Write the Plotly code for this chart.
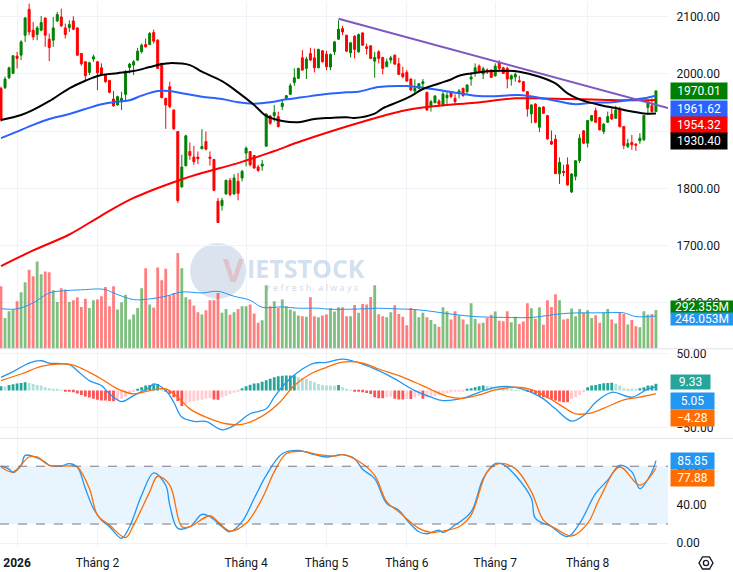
import plotly.graph_objects as go

# ---------------- DATA ----------------
x_tick_vals = [4, 24, 61, 81, 101, 123, 146]
x_tick_text = ["<b>2026</b>", "Tháng 2", "Tháng 4", "Tháng 5", "Tháng 6", "Tháng 7", "Tháng 8"]

price_ticks = [1600, 1700, 1800, 1900, 2000, 2100]
macd_ticks = [-50, 50]
stoch_ticks = [0, 40, 80]

opens = [1974.5,1975.6,1993.0,2000.6,2030.7,2032.4,2067.2,2112.4,2075.9,2068.4,
2075.9,2097.4,2060.3,2058.5,2092.2,2099.1,2080.0,2080.6,2092.2,2080.0,
2035.4,2020.9,2002.3,2025.5,2020.9,2010.4,1998.8,1988.4,1955.9,1945.5,
1951.3,1964.0,2011.0,2015.1,2023.8,2038.2,2051.0,2051.0,2071.9,2058.5,
2018.0,1957.1,1977.4,1936.8,1899.1,1802.3,1839.4,1864.3,1854.5,1854.5,
1869.0,1881.7,1854.5,1850.4,1777.4,1769.8,1790.1,1813.9,1790.1,1812.2,
1818.0,1861.4,1864.3,1857.4,1837.1,1838.8,1873.6,1926.4,1926.9,1925.2,
1942.6,1957.1,1964.0,1984.9,1991.9,2027.8,2009.3,2035.4,2027.8,2010.4,
2040.0,2034.2,2011.6,2038.2,2060.3,2078.8,2067.2,2036.5,2065.5,2038.2,
2071.3,2046.9,2048.7,2022.0,2038.2,2028.4,2012.2,2023.8,2032.4,2017.4,
2000.6,2002.3,1990.7,1969.8,1974.5,1982.6,1967.5,1942.6,1949.5,1952.4,
1944.3,1958.2,1968.7,1957.1,1967.5,1974.5,1968.7,1990.7,2002.3,2013.3,
1999.4,2006.4,2006.4,1996.5,2019.1,2010.4,2009.3,1990.7,1994.2,1987.8,
1986.1,1968.7,1929.8,1947.2,1906.6,1942.0,1926.9,1881.7,1885.8,1825.5,
1829.6,1841.1,1793.6,1820.9,1848.1,1900.3,1878.8,1918.2,1935.6,1923.5,
1899.1,1915.3,1929.3,1922.3,1938.5,1907.8,1873.0,1880.0,1877.1,1882.9,
1884.6,1940.9,1944.3,1933.9]

highs = [1977.4,1994.8,2012.2,2032.4,2038.2,2058.5,2099.1,2122.3,2090.4,2083.5,
2100.9,2097.4,2070.1,2099.1,2107.8,2113.6,2087.5,2093.3,2100.3,2080.6,
2036.0,2021.5,2020.9,2033.6,2021.5,2018.0,1999.4,1989.0,1969.8,1961.7,
1968.7,2006.4,2019.1,2023.8,2045.2,2052.7,2061.4,2073.0,2077.1,2060.3,
2019.1,1957.7,1986.1,1937.4,1899.7,1858.5,1893.3,1880.0,1874.2,1864.3,
1903.2,1899.1,1864.3,1851.0,1783.2,1783.2,1815.1,1818.0,1824.9,1826.7,
1832.5,1873.0,1864.9,1858.0,1841.1,1849.8,1931.0,1928.1,1945.5,1933.9,
1954.2,1962.9,1983.2,2009.3,2010.4,2041.1,2029.6,2045.2,2044.0,2044.0,
2041.1,2040.0,2035.4,2057.4,2093.3,2083.5,2067.8,2055.6,2067.2,2070.1,
2071.9,2052.7,2049.8,2038.2,2041.1,2029.6,2026.7,2031.3,2033.6,2027.8,
2012.2,2006.4,1991.9,1990.1,1983.8,1990.7,1968.7,1954.2,1962.9,1955.3,
1968.7,1968.7,1969.8,1964.0,1973.3,1975.6,1981.4,2002.3,2018.0,2016.2,
2012.2,2009.3,2007.5,2018.0,2023.8,2012.2,2012.2,1998.8,2002.3,1996.5,
1987.2,1969.8,1946.7,1948.4,1942.6,1943.2,1928.1,1900.9,1893.3,1853.9,
1841.1,1853.9,1826.7,1849.3,1894.5,1901.4,1919.4,1928.1,1940.9,1924.6,
1913.6,1933.9,1939.7,1944.3,1942.6,1909.0,1886.4,1893.3,1878.8,1896.2,
1928.1,1954.2,1957.1,1971.0]

lows = [1916.5,1973.3,1990.7,1999.4,2009.3,2023.8,2055.6,2067.2,2058.5,2058.5,
2074.2,2046.9,2022.0,2046.9,2090.4,2081.7,2061.4,2073.0,2075.9,2031.3,
2013.9,1989.0,1997.7,2020.9,1971.6,1996.5,1984.3,1965.8,1942.6,1944.3,
1936.8,1951.3,2000.6,1997.7,2022.0,2035.4,2045.8,2049.8,2052.7,2008.1,
1957.1,1903.8,1939.7,1902.0,1774.5,1801.7,1838.2,1849.8,1841.1,1842.3,
1868.4,1866.1,1839.4,1794.8,1739.7,1761.2,1789.0,1786.1,1789.0,1779.1,
1812.2,1838.2,1838.2,1834.2,1828.4,1830.7,1873.0,1910.7,1916.5,1906.1,
1936.8,1955.9,1962.9,1979.1,1991.3,2005.2,1990.7,2022.0,2002.3,2009.3,
2019.7,2006.4,2006.4,2032.4,2059.1,2067.2,2038.2,2028.4,2026.7,2036.5,
2048.7,2033.6,2025.5,1993.0,2018.0,1998.8,2011.6,2018.0,2015.1,1997.7,
1991.9,1986.1,1969.8,1962.9,1973.3,1975.6,1935.1,1933.9,1948.4,1942.6,
1942.6,1945.5,1957.1,1945.5,1957.1,1960.0,1965.8,1979.1,1994.8,2000.6,
1990.7,1999.4,1993.0,1994.8,2002.3,1999.4,1974.5,1979.1,1986.1,1984.3,
1968.7,1925.2,1913.6,1913.6,1898.0,1929.8,1884.6,1875.9,1824.9,1807.5,
1820.9,1804.6,1791.9,1813.9,1844.0,1877.1,1871.3,1916.5,1914.2,1900.9,
1894.5,1914.2,1919.4,1921.1,1906.1,1868.4,1870.1,1867.2,1865.5,1877.7,
1882.9,1928.1,1932.2,1933.9]

closes = [1919.4,1990.7,2010.4,2031.3,2026.7,2055.6,2097.4,2073.0,2064.3,2080.0,
2089.3,2067.2,2045.8,2080.0,2103.2,2083.5,2068.4,2085.8,2077.7,2032.4,
2017.4,1996.5,2019.1,2029.6,2001.7,1998.8,1986.1,1967.5,1943.8,1960.0,
1957.1,2003.5,2016.8,2020.9,2039.4,2049.8,2046.9,2070.1,2056.8,2009.3,
1958.2,1945.5,1942.6,1903.8,1778.5,1837.1,1891.6,1857.4,1846.4,1851.6,
1873.0,1868.4,1852.2,1796.5,1740.3,1779.1,1813.9,1789.0,1818.0,1791.3,
1829.6,1870.1,1841.1,1835.4,1831.3,1842.3,1929.8,1913.6,1932.2,1907.8,
1948.4,1961.7,1979.1,1993.0,2009.3,2006.4,2025.5,2023.8,2010.4,2042.3,
2020.9,2012.2,2033.6,2055.6,2077.7,2073.0,2039.4,2053.9,2042.3,2068.4,
2049.8,2044.0,2026.7,2028.4,2026.7,2009.3,2020.9,2027.8,2016.8,1998.8,
1994.8,1987.2,1971.6,1974.5,1982.6,1986.1,1936.8,1951.3,1961.1,1946.7,
1964.6,1962.3,1960.0,1951.3,1969.8,1961.7,1980.3,1994.2,2010.4,2003.5,
2008.7,2003.5,1993.6,2013.3,2009.3,2000.6,1990.7,1996.5,1998.8,1986.1,
1969.8,1938.5,1945.5,1915.3,1940.9,1931.0,1886.4,1877.1,1825.5,1845.2,
1827.8,1805.8,1824.9,1848.1,1887.5,1878.8,1918.2,1926.9,1915.3,1902.0,
1911.9,1925.2,1921.1,1936.8,1907.8,1874.8,1878.2,1875.9,1875.3,1887.5,
1926.9,1951.3,1933.9,1970.01]

# volume in millions
volumes = [470,232,282,295,357,425,500,595,545,657,560,582,575,440,352,455,445,352,365,387,
315,377,307,365,370,395,465,320,470,295,350,407,220,257,307,455,605,332,310,612,
515,602,400,420,720,605,387,370,325,275,257,290,365,365,420,270,300,255,275,300,
320,320,332,265,195,215,
477,320,357,307,370,320,295,282,250,245,240,387,245,237,250,257,
307,280,312,312,245,245,330,270,337,332,390,477,260,245,237,275,327,262,240,177,
307,295,237,270,237,217,187,165,312,282,220,282,250,220,185,342,225,190,195,232,
255,280,210,207,282,200,240,187,205,342,305,225,312,180,365,315,410,365,220,225,
302,245,300,270,290,232,252,195,270,300,220,190,277,262,182,217,170,162,282,257,
262,292.355]

vol_ma_idx = [0,4,8,12,16,21,24,26,28,33,37,41,45,50,54,58,62,65,70,74,79,82,90,94,98,103,107,111,115,119,123,127,132,136,140,144,148,152,155,158,163]
vol_ma_val = [302,300,345,420,437,445,450,445,420,370,375,395,427,420,432,395,365,312,315,305,305,297,300,305,300,295,282,265,250,240,237,235,235,250,265,270,270,272,270,242,246.053]

black_idx = [0,5,8,12,17,21,25,29,33,37,40,42,47,50,55,59,63,66,70,74,78,82,86,88,93,95,99,102,105,109,112,114,117,120,124,129,134,138,141,144,149,154,157,160,163]
black_val = [1919.4,1928,1937,1952,1974.5,1987.8,1997.7,2001,2004.6,2011.6,2016.8,2018.5,2015,2003.5,1987,1967.5,1945.5,1926.4,1917.6,1915.3,1921,1922.9,1924,1922.9,1930.4,1939.7,1951.3,1961,1973.3,1983,1990,1996.5,2000.6,2003.5,2005.2,2003.5,1994.8,1983.2,1965.8,1955.3,1945.5,1938.5,1933.9,1930.6,1930.40]

blue_idx = [0,4,8,12,17,21,25,29,32,35,39,42,45,50,55,59,63,67,71,75,79,86,89,94,101,105,109,114,118,122,129,134,138,143,147,152,156,160,163]
blue_val = [1887.5,1899,1910.7,1921,1929.8,1938.5,1946.7,1951.3,1953.6,1961.7,1969.8,1969.8,1965.8,1960,1955.9,1950.1,1947.8,1950.1,1955.3,1958.8,1962.9,1967.5,1968.7,1976.8,1978.5,1975.6,1971.6,1965.8,1961.7,1960.6,1962.9,1958.2,1953,1946.7,1949.5,1950.1,1953.6,1957.1,1961.62]

red_idx = [0,8,17,25,33,44,50,59,67,75,86,93,101,109,118,128,133,141,149,157,163]
red_val = [1664.3,1691.6,1719.4,1752.5,1783.2,1813.3,1826.7,1844,1862.6,1882.9,1907.8,1922.3,1936.8,1944.3,1949.5,1957.1,1957.1,1955.9,1954.8,1953.6,1954.32]

trend_idx = [84, 166]
trend_val = [2096.0, 1940.0]

macd_idx = [0,3,7,10,12,17,19,22,25,27,30,33,37,38,41,43,45,48,51,55,58,62,66,68,71,75,78,81,85,90,94,98,103,107,110,115,119,123,128,132,135,138,142,145,148,152,157,161,163]
macd_val = [18,25.7,37.4,40.5,37.4,35.1,27,13.5,6.8,-4.5,-14.9,-6.8,4.5,9,0,-15.8,-36,-41.9,-41.9,-53.2,-47.3,-31.5,-24.8,-9,11.3,29.3,37.4,38.3,42.8,36,27,15.8,0,-9,-13.5,-10.4,-2.3,4.5,4.5,-2.3,-11.3,-24.8,-41.4,-33.8,-15.8,-2.3,-9,2.3,5.05]

signal_idx = [0,5,10,14,18,22,25,29,33,37,41,44,47,51,56,60,65,69,73,77,81,85,90,94,99,103,107,111,115,119,123,128,132,136,140,143,147,151,155,159,163]
signal_val = [13.5,22.5,32.9,36,34.7,24.8,15.8,2.3,-4.5,0,2.3,-9,-24.8,-36,-45,-45.9,-34.7,-18,6.8,22.5,31.5,38.5,37.4,29.3,20.3,11.3,1.4,-7.7,-10.4,-5.9,0.9,4.5,1.4,-9,-22.5,-31.5,-30.2,-21.6,-12.6,-9,-4.28]

hist = [5.9,5.5,7.6,8.5,9.5,10.4,11.3,10.4,9.0,7.7,6.8,4.5,3.2,2.3,1.4,0.9,-0.9,-1.4,-2.3,-4,
-5.9,-8,-9.5,-11,-12.5,-13.5,-13.6,-14,-14.5,-13,-11,-8,-5,-2,2.3,4.5,6.8,7.7,8.5,9,
3,-1.5,-4.5,-9,-14,-21,-18,-16,-14.5,-13.5,-12.5,-11,-10,-12,-12.5,-9,-7,-5,-3,-1,
3.2,5.9,8,9.5,10,12,14,16,18,19.5,20,20.3,20.5,20.7,18,16.7,15.8,13.5,11.3,9,
7.7,7.0,6.8,6.6,7.5,4.5,2.3,0.9,-0.9,-1.4,-2.3,-3.2,-4.5,-9,-10.4,-10.5,-9,-8.5,-11,-12,
-12.2,-11.3,-11.5,-9,-7,-11,-9,-8.5,-7.7,-6,-4.5,-3.2,-2.3,-1.4,-0.9,-0.5,2.3,3.2,4.5,5.9,
6.8,6.3,5.9,4.5,3.6,2.7,1.8,1.4,0.9,0.5,0.2,-1.4,-2.3,-4.5,-7.7,-9,-10.4,-12,-13.5,-14.9,
-15.8,-16,-11.3,-9,-5.9,-2.3,4.5,6.8,7.7,9,9.9,10.4,10.6,9,6.8,3.2,2.3,1.4,1.3,3.2,
4.5,6.8,6.9,9.33]

k_idx = [0,2,3,5,6,8,11,12,15,17,19,21,23,25,27,30,32,35,38,41,42,44,47,50,52,55,57,60,63,66,70,74,78,81,85,88,90,93,96,99,101,104,106,109,110,113,117,120,123,125,128,132,133,137,141,144,148,151,154,157,159,162,163]
k_val = [80,77,73.4,81,91.3,90.2,84.4,81,80.3,82.7,79.2,56.8,36.1,24.1,17.2,5.2,17.2,49.9,73,60.3,39.6,15.5,17.2,30,27.6,17.2,12,22.4,46.5,70.6,93,96.5,92,89.6,92,87.8,76.8,67.2,41.3,34.4,24.1,12,9.9,13.7,11.3,18.9,32.7,67.2,82.7,81.7,70.6,46.5,25.8,17.2,6.9,20.7,51.7,65.5,81,74.1,56.8,74.1,85.85]

d_idx = [0,3,7,9,12,17,19,22,24,27,31,33,37,39,42,45,47,52,54,57,61,65,68,71,75,79,83,85,89,93,96,99,104,107,110,114,117,121,124,128,132,135,138,142,146,149,154,159,163]
d_val = [79.2,74.1,89.6,89.6,81,80.3,79.2,56.8,29.3,18.9,5.9,18.9,53.4,69.6,60.3,17.2,17.2,28.6,22.4,12.7,20.7,46.5,74.1,93,95.5,92,90.6,92,85.2,70.6,43,32.7,15.5,11.3,12.7,17.2,29.3,74.1,82.7,77.5,53.4,24.1,15.5,7.6,20.7,46.5,79.2,60.3,77.88]

# ---------------- LAYOUT HELPERS ----------------
W, H = 733, 572
PLOT_W, PLOT_H = 668, 548
def px(xp):
    return xp / PLOT_W
def py(yp):
    return (PLOT_H - yp) / PLOT_H

n = min(len(opens), len(highs), len(lows), len(closes), len(volumes), len(hist))
idx = list(range(n))
GRID = "#f0f3fa"
FONT = "Roboto, Noto Sans, sans-serif"
TXT = "#131722"

vol_colors = ["rgba(0,128,0,0.5)" if closes[i] >= opens[i] else "rgba(255,0,0,0.5)" for i in idx]
hist_colors = []
for i in idx:
    prev = hist[i - 1] if i > 0 else hist[i]
    if hist[i] >= 0:
        hist_colors.append("#26a69a" if hist[i] >= prev else "#b2dfdb")
    else:
        hist_colors.append("#ffcdd2" if hist[i] > prev else "#ff5252")

fig = go.Figure()

# volume (base axis of price pane)
fig.add_trace(go.Bar(x=idx, y=volumes[:n], marker=dict(color=vol_colors, line=dict(width=0)),
                     width=0.7, xaxis="x3", yaxis="y"))
fig.add_trace(go.Scatter(x=vol_ma_idx, y=vol_ma_val, mode="lines",
                         line=dict(color="#2196f3", width=1, shape="spline"), xaxis="x3", yaxis="y"))

# moving averages
fig.add_trace(go.Scatter(x=red_idx, y=red_val, mode="lines",
                         line=dict(color="#ff0000", width=2, shape="spline"), xaxis="x3", yaxis="y2"))
fig.add_trace(go.Scatter(x=blue_idx, y=blue_val, mode="lines",
                         line=dict(color="#2962ff", width=2, shape="spline"), xaxis="x3", yaxis="y2"))
fig.add_trace(go.Scatter(x=black_idx, y=black_val, mode="lines",
                         line=dict(color="#000000", width=2, shape="spline"), xaxis="x3", yaxis="y2"))
fig.add_trace(go.Scatter(x=trend_idx, y=trend_val, mode="lines",
                         line=dict(color="#7e57c2", width=2), xaxis="x3", yaxis="y2", cliponaxis=True))

# candles
fig.add_trace(go.Candlestick(x=idx, open=opens[:n], high=highs[:n], low=lows[:n], close=closes[:n],
                             increasing=dict(line=dict(color="#008000", width=1), fillcolor="#008000"),
                             decreasing=dict(line=dict(color="#ff0000", width=1), fillcolor="#ff0000"),
                             whiskerwidth=0, xaxis="x3", yaxis="y2"))

# MACD pane
fig.add_trace(go.Bar(x=idx, y=hist[:n], marker=dict(color=hist_colors, line=dict(width=0)),
                     width=0.7, xaxis="x2", yaxis="y3"))
fig.add_trace(go.Scatter(x=macd_idx, y=macd_val, mode="lines",
                         line=dict(color="#2196f3", width=1.3, shape="spline"), xaxis="x2", yaxis="y3"))
fig.add_trace(go.Scatter(x=signal_idx, y=signal_val, mode="lines",
                         line=dict(color="#ff6d00", width=1.3, shape="spline"), xaxis="x2", yaxis="y3"))

# Stochastic pane
fig.add_trace(go.Scatter(x=k_idx, y=k_val, mode="lines",
                         line=dict(color="#2196f3", width=1.3, shape="spline"), xaxis="x", yaxis="y4"))
fig.add_trace(go.Scatter(x=d_idx, y=d_val, mode="lines",
                         line=dict(color="#ff6d00", width=1.3, shape="spline"), xaxis="x", yaxis="y4"))

xcommon = dict(range=[-0.25, 166], tickmode="array", tickvals=x_tick_vals, showgrid=True,
               gridcolor=GRID, zeroline=False, showline=False, fixedrange=True)

price_dom = [py(348), 1]
macd_dom = [py(438), py(348)]
stoch_dom = [0, py(438)]

fig.update_layout(
    width=W, height=H,
    margin=dict(l=0, r=W - PLOT_W, t=0, b=H - PLOT_H),
    paper_bgcolor="white", plot_bgcolor="white",
    showlegend=False, hovermode=False,
    font=dict(family=FONT, size=12, color=TXT),
    xaxis=dict(**xcommon, domain=[0, 1], anchor="y4", ticktext=x_tick_text,
               ticks="outside", ticklen=4, tickcolor="rgba(0,0,0,0)",
               tickfont=dict(size=12, color=TXT)),
    xaxis2=dict(**xcommon, matches="x", anchor="y3", showticklabels=False),
    xaxis3=dict(**xcommon, matches="x", anchor="y", showticklabels=False,
                rangeslider=dict(visible=False)),
    yaxis=dict(domain=price_dom, anchor="x3", range=[0, 2610], visible=False, fixedrange=True),
    yaxis2=dict(overlaying="y", anchor="x3", side="right", range=[1520, 2125.2],
                tickmode="array", tickvals=price_ticks, ticktext=[f"{v:.2f}" for v in price_ticks],
                showgrid=True, gridcolor=GRID, zeroline=False, ticks="outside", ticklen=5,
                tickcolor="rgba(0,0,0,0)", fixedrange=True),
    yaxis3=dict(domain=macd_dom, anchor="x2", side="right", range=[-64.9, 56.8],
                tickmode="array", tickvals=macd_ticks,
                ticktext=[("−" if v < 0 else "") + f"{abs(v):.2f}" for v in macd_ticks],
                showgrid=True, gridcolor=GRID, zeroline=False, ticks="outside", ticklen=5,
                tickcolor="rgba(0,0,0,0)", fixedrange=True),
    yaxis4=dict(domain=stoch_dom, anchor="x", side="right", range=[-4.9, 108.9],
                tickmode="array", tickvals=stoch_ticks, ticktext=[f"{v:.2f}" for v in stoch_ticks],
                showgrid=True, gridcolor=GRID, zeroline=False, ticks="outside", ticklen=5,
                tickcolor="rgba(0,0,0,0)", fixedrange=True),
)

shapes = []
# stochastic band and dashed levels
shapes.append(dict(type="rect", xref="paper", yref="y4", x0=0, x1=1, y0=20, y1=80,
                   fillcolor="rgba(33,150,243,0.1)", line=dict(width=0), layer="below"))
for lv in (20, 80):
    shapes.append(dict(type="line", xref="paper", yref="y4", x0=0, x1=1, y0=lv, y1=lv,
                       line=dict(color="#787b86", width=1, dash="dash")))
# pane separators
for yp in (348, 438):
    shapes.append(dict(type="line", xref="paper", yref="paper", x0=0, x1=px(W), y0=py(yp), y1=py(yp),
                       line=dict(color="#e0e3eb", width=1)))
# watermark circle
shapes.append(dict(type="circle", xref="paper", yref="paper", x0=px(190), x1=px(246),
                   y0=py(298), y1=py(242), fillcolor="rgba(110,145,190,0.25)", line=dict(width=0),
                   layer="below"))
# settings icon (hexagon + circle)
cx, cy, r = 706, 563, 7
hexpts = [(cx + r, cy), (cx + r / 2, cy + r * 0.87), (cx - r / 2, cy + r * 0.87),
          (cx - r, cy), (cx - r / 2, cy - r * 0.87), (cx + r / 2, cy - r * 0.87)]
path = "M " + " L ".join(f"{px(a):.5f},{py(b):.5f}" for a, b in hexpts) + " Z"
shapes.append(dict(type="path", xref="paper", yref="paper", path=path,
                   line=dict(color=TXT, width=1.3)))
shapes.append(dict(type="circle", xref="paper", yref="paper", x0=px(cx - 2.6), x1=px(cx + 2.6),
                   y0=py(cy + 2.6), y1=py(cy - 2.6), line=dict(color=TXT, width=1.3)))
fig.update_layout(shapes=shapes)

ann = []
def label(text, ycenter, bg, w, h=16, fg="white"):
    ann.append(dict(text=text, xref="paper", yref="paper", x=px(670), y=py(ycenter),
                    xanchor="left", yanchor="middle", showarrow=False, bgcolor=bg,
                    width=w, height=h, borderpad=0, align="center",
                    font=dict(color=fg, size=12, family=FONT)))

label(f"{closes[-1]:.2f}", 89.6, "#008000", 56)
label(f"{blue_val[-1]:.2f}", 107, "#2962ff", 56)
label(f"{red_val[-1]:.2f}", 123.6, "#ff0000", 56)
label(f"{black_val[-1]:.2f}", 139.5, "#000000", 56)
label(f"{volumes[-1]:.3f}M", 306, "#008000", 62, 12)
label(f"{vol_ma_val[-1]:.3f}M", 318, "#2196f3", 62, 12)
label(f"{hist[-1]:.2f}", 381.5, "#26a69a", 39, 14)
label(f"{macd_val[-1]:.2f}", 400, "#2196f3", 43)
label(("−" if signal_val[-1] < 0 else "") + f"{abs(signal_val[-1]):.2f}", 417.5, "#ff6d00", 43)
label(f"{k_val[-1]:.2f}", 461, "#2196f3", 43)
label(f"{d_val[-1]:.2f}", 477.5, "#ff6d00", 43)

# watermark text
ann.append(dict(text="<b>V</b>", xref="paper", yref="paper", x=px(233), y=py(268), showarrow=False,
                font=dict(size=32, color="rgba(240,110,110,0.30)", family="Open Sans")))
ann.append(dict(text="<b>IETSTOCK</b>", xref="paper", yref="paper", x=px(306), y=py(267), showarrow=False,
                font=dict(size=25, color="rgba(100,145,205,0.30)", family="Open Sans")))
ann.append(dict(text="r e f r e s h   a l w a y s", xref="paper", yref="paper", x=px(312), y=py(287),
                showarrow=False, font=dict(size=9, color="rgba(140,160,190,0.45)", family="Open Sans")))
fig.update_layout(annotations=ann)

fig.write_html("out.html", config={"displayModeBar": False},
               post_script="document.body.style.margin='0px';document.body.style.padding='0px';")
